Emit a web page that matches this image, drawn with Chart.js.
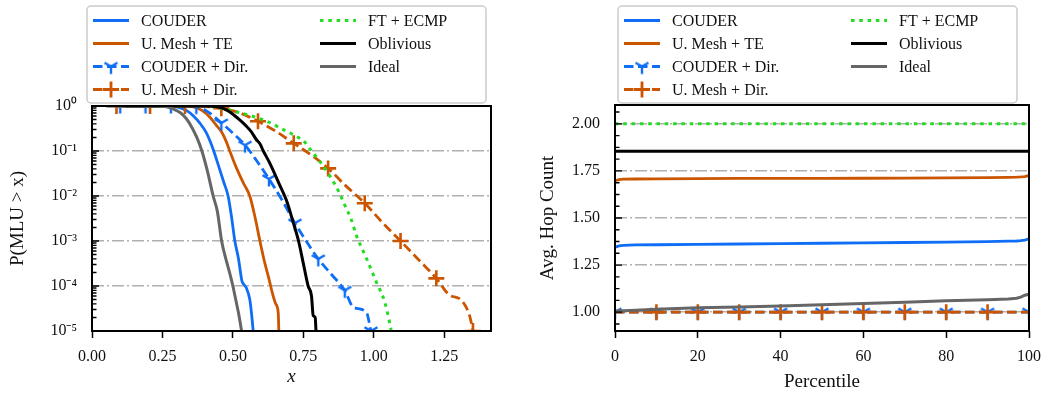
<!DOCTYPE html>
<html lang="en">
<head>
<meta charset="UTF-8">
<title>MLU CCDF and average hop count</title>
<script src="https://cdn.jsdelivr.net/npm/chart.js"></script>
<style>
  body { margin: 0; background: #fff; }
  .wrap { display: flex; width: 1050px; height: 393px; }
  .box { position: relative; width: 525px; height: 393px; }
</style>
</head>
<body>
<div class="wrap">
  <div class="box"><canvas id="mluChart"></canvas></div>
  <div class="box"><canvas id="hopChart"></canvas></div>
</div>
<script>
// ---- data ----
const seriesNames = ['COUDER', 'U. Mesh + TE', 'COUDER + Dir.', 'U. Mesh + Dir.', 'FT + ECMP', 'Oblivious', 'Ideal'];

// left panel: P(MLU > x)
const mluXTicks = [0, 0.25, 0.5, 0.75, 1.0, 1.25];
const mluYTicks = [1e-5, 1e-4, 1e-3, 1e-2, 1e-1, 1];
const mluYLabels = ['10⁻⁵', '10⁻⁴', '10⁻³', '10⁻²', '10⁻¹', '10⁰'];

const couderX = [0.08, 0.26, 0.30, 0.335, 0.36, 0.385, 0.405, 0.42, 0.432, 0.45, 0.468, 0.483, 0.495, 0.507, 0.52, 0.532, 0.538, 0.548, 0.56, 0.566, 0.572];
const couderP = [1, 1, 0.96, 0.8, 0.6, 0.4, 0.26, 0.16, 0.1, 0.045, 0.02, 0.01, 0.0035, 0.001, 0.0004, 0.00013, 0.00011, 0.00009, 0.00005, 0.000025, 0.00001];

const meshTeX = [0.11, 0.32, 0.36, 0.39, 0.42, 0.44, 0.459, 0.475, 0.489, 0.505, 0.522, 0.54, 0.56, 0.578, 0.596, 0.612, 0.625, 0.631, 0.64, 0.652, 0.661, 0.663];
const meshTeP = [1, 1, 0.96, 0.8, 0.55, 0.38, 0.27, 0.17, 0.1, 0.055, 0.031, 0.018, 0.01, 0.0035, 0.001, 0.00035, 0.00017, 0.00012, 0.00007, 0.00004, 0.000025, 0.00001];

const couderDirX = [0.10, 0.19, 0.28, 0.37, 0.41, 0.459, 0.50, 0.543, 0.585, 0.628, 0.675, 0.72, 0.76, 0.803, 0.85, 0.897, 0.927, 0.974, 0.99];
const couderDirP = [1, 1, 1, 0.97, 0.75, 0.42, 0.25, 0.135, 0.06, 0.024, 0.008, 0.0025, 0.001, 0.0004, 0.00018, 0.00008, 0.000034, 0.000026, 0.00001];
const couderDirMarks = [0, 1, 2, 3, 5, 7, 9, 11, 13, 15, 18];

const meshDirX = [0.087, 0.206, 0.33, 0.40, 0.459, 0.52, 0.589, 0.65, 0.716, 0.78, 0.838, 0.90, 0.968, 1.03, 1.095, 1.16, 1.222, 1.27, 1.305, 1.34, 1.352];
const meshDirP = [1, 1, 1, 0.97, 0.89, 0.72, 0.457, 0.28, 0.148, 0.08, 0.041, 0.017, 0.0069, 0.0026, 0.001, 0.00038, 0.000148, 0.000062, 0.000052, 0.000022, 0.00001];
const meshDirMarks = [0, 1, 2, 4, 6, 8, 10, 12, 14, 16, 20];

const ftX = [0.10, 0.38, 0.42, 0.459, 0.52, 0.577, 0.63, 0.671, 0.72, 0.754, 0.773, 0.809, 0.844, 0.873, 0.897, 0.921, 0.938, 0.974, 1.009, 1.039, 1.057, 1.062];
const ftP = [1, 1, 0.98, 0.89, 0.72, 0.575, 0.43, 0.316, 0.22, 0.16, 0.112, 0.058, 0.028, 0.0135, 0.0063, 0.0029, 0.00135, 0.00041, 0.000123, 0.0000437, 0.0000145, 0.00001];

const oblX = [0.12, 0.40, 0.44, 0.48, 0.518, 0.545, 0.565, 0.583, 0.596, 0.608, 0.63, 0.667, 0.69, 0.714, 0.733, 0.749, 0.767, 0.779, 0.785, 0.792, 0.795];
const oblP = [1, 1, 0.97, 0.8, 0.53, 0.37, 0.27, 0.18, 0.145, 0.1, 0.055, 0.017, 0.008, 0.0026, 0.001, 0.00034, 0.0001, 0.00006, 0.000022, 0.00002, 0.00001];

const idealX = [0.05, 0.22, 0.26, 0.29, 0.315, 0.335, 0.355, 0.372, 0.39, 0.41, 0.43, 0.445, 0.46, 0.475, 0.489, 0.50, 0.51, 0.52, 0.531];
const idealP = [1, 1, 0.97, 0.85, 0.7, 0.52, 0.33, 0.2, 0.1, 0.035, 0.01, 0.0045, 0.001, 0.0004, 0.00019, 0.0001, 0.00005, 0.000025, 0.00001];

// right panel: average hop count per percentile
const pctX = [0, 1, 2, 5, 10, 20, 30, 40, 50, 60, 70, 80, 90, 95, 97, 98, 99, 100];
const pctXTicks = [0, 20, 40, 60, 80, 100];
const hopYTicks = [1.0, 1.25, 1.5, 1.75, 2.0];

const couderHops    = [1.345, 1.352, 1.355, 1.357, 1.358, 1.36, 1.362, 1.364, 1.366, 1.368, 1.37, 1.372, 1.375, 1.377, 1.378, 1.38, 1.383, 1.39];
const meshTeHops    = [1.698, 1.704, 1.706, 1.707, 1.708, 1.709, 1.71, 1.71, 1.71, 1.711, 1.712, 1.713, 1.714, 1.716, 1.717, 1.718, 1.72, 1.726];
const couderDirHops = [1, 1, 1, 1, 1, 1, 1, 1, 1, 1, 1, 1, 1, 1, 1, 1, 1, 1];
const meshDirHops   = [1, 1, 1, 1, 1, 1, 1, 1, 1, 1, 1, 1, 1, 1, 1, 1, 1, 1];
const ftHops        = [2, 2, 2, 2, 2, 2, 2, 2, 2, 2, 2, 2, 2, 2, 2, 2, 2, 2];
const oblHops       = [1.855, 1.855, 1.855, 1.855, 1.855, 1.855, 1.855, 1.855, 1.855, 1.855, 1.855, 1.855, 1.855, 1.855, 1.855, 1.855, 1.855, 1.855];
const idealHops     = [1.006, 1.007, 1.008, 1.01, 1.015, 1.023, 1.028, 1.033, 1.039, 1.046, 1.053, 1.06, 1.066, 1.07, 1.074, 1.08, 1.09, 1.096];
const couderDirMarkPct = [0, 10, 20, 30, 40, 50, 60, 70, 80, 90, 100];
const meshDirMarkPct = [10, 20, 30, 40, 50, 60, 70, 80, 90];

// ---- styling ----
const family = "'Liberation Serif', 'Times New Roman', serif";
const textColor = '#111';
const blue = '#0f6ef5', orange = '#cc5500', green = '#22dd22', gray = '#666666', black = '#000000';
const gridGray = '#b0b0b0';

function triMarker(color, r, lw) {
  const c = document.createElement('canvas');
  const s = Math.ceil(2 * r + lw + 2);
  c.width = s; c.height = s;
  const g = c.getContext('2d');
  const m = s / 2;
  g.strokeStyle = color; g.lineWidth = lw;
  g.beginPath();
  g.moveTo(m, m); g.lineTo(m, m + r);
  g.moveTo(m, m); g.lineTo(m - 0.866 * r, m - 0.5 * r);
  g.moveTo(m, m); g.lineTo(m + 0.866 * r, m - 0.5 * r);
  g.stroke();
  return c;
}
const triBlue = triMarker(blue, 7.5, 2.4);

const lineStyles = [
  {color: blue, width: 2.8},
  {color: orange, width: 2.8},
  {color: blue, width: 2.8, dash: [9.5, 4.5], marker: 'tri'},
  {color: orange, width: 2.8, dash: [9.5, 4.5], marker: 'cross'},
  {color: green, width: 3, dash: [3.5, 4.8]},
  {color: black, width: 3},
  {color: gray, width: 3}
];

function pts(xs, ys) { return xs.map((x, i) => ({x: x, y: ys[i]})); }

function makeSets(dataList, markTest, smooth) {
  return dataList.map((data, i) => {
    const st = lineStyles[i];
    const isMark = c => !!st.marker && markTest[i](c.dataIndex, c.raw);
    return {
      label: seriesNames[i],
      data: data,
      borderColor: st.color,
      borderWidth: st.width,
      borderDash: st.dash || [],
      fill: false,
      tension: 0,
      cubicInterpolationMode: smooth ? 'monotone' : 'default',
      pointStyle: st.marker === 'tri' ? triBlue : 'cross',
      pointRadius: c => isMark(c) ? 8 : 0,
      pointBorderColor: st.color,
      pointBorderWidth: 2.6,
      pointBackgroundColor: st.color,
      order: -i,
      clip: 0
    };
  });
}

// legend in two columns, drawn above the plot
function boxLegend(dx) {
  return {
    id: 'boxLegend',
    afterDraw(chart) {
      const {ctx, chartArea} = chart;
      const x0 = chartArea.left + dx, y0 = 6, w = 399, h = 97;
      ctx.save();
      ctx.fillStyle = 'rgba(255,255,255,0.9)';
      ctx.strokeStyle = '#cccccc';
      ctx.lineWidth = 1.5;
      ctx.beginPath();
      ctx.roundRect(x0, y0, w, h, 4);
      ctx.fill(); ctx.stroke();
      ctx.font = '16px ' + family;
      ctx.textBaseline = 'middle';
      ctx.fillStyle = textColor;
      seriesNames.forEach((name, i) => {
        const col = i < 4 ? 0 : 1, row = i < 4 ? i : i - 4;
        const sx = x0 + 6 + col * 227, y = y0 + 14.5 + row * 23;
        const st = lineStyles[i];
        ctx.save();
        ctx.strokeStyle = st.color; ctx.lineWidth = st.width;
        ctx.setLineDash(st.dash || []);
        ctx.beginPath(); ctx.moveTo(sx, y); ctx.lineTo(sx + 36, y); ctx.stroke();
        ctx.setLineDash([]);
        if (st.marker === 'tri') {
          ctx.drawImage(triBlue, sx + 18 - triBlue.width / 2, y - triBlue.height / 2);
        } else if (st.marker === 'cross') {
          ctx.beginPath();
          ctx.moveTo(sx + 10, y); ctx.lineTo(sx + 26, y);
          ctx.moveTo(sx + 18, y - 8); ctx.lineTo(sx + 18, y + 8);
          ctx.stroke();
        }
        ctx.restore();
        ctx.fillText(name, sx + 48, y + 1);
      });
      ctx.restore();
    }
  };
}

// inward y ticks and the full axes frame
const frameTicks = {
  id: 'frameTicks',
  afterDatasetsDraw(chart, args, opts) {
    const {ctx, chartArea: a} = chart;
    const y = chart.scales.y;
    ctx.save();
    ctx.strokeStyle = '#000';
    ctx.lineWidth = 1.4;
    ctx.beginPath();
    opts.major.forEach(v => { const p = y.getPixelForValue(v); ctx.moveTo(a.left, p); ctx.lineTo(a.left + 7, p); });
    opts.minor.forEach(v => { const p = y.getPixelForValue(v); ctx.moveTo(a.left, p); ctx.lineTo(a.left + 4.5, p); });
    ctx.stroke();
    ctx.lineWidth = 2;
    ctx.strokeRect(a.left, a.top, a.right - a.left, a.bottom - a.top);
    ctx.restore();
  }
};

const tickFont = {family: family, size: 16};
const titleFont = {family: family, size: 19};

function xAxis(min, max, tickVals, fmt, title, titleStyle, titlePad) {
  return {
    type: 'linear', min: min, max: max,
    afterBuildTicks: s => { s.ticks = tickVals.map(v => ({value: v})); },
    afterFit: s => { s.height = 62; },
    ticks: {font: tickFont, color: textColor, padding: 9, maxRotation: 0, autoSkip: false, callback: fmt},
    grid: {color: 'rgba(0,0,0,0)', tickColor: '#000', tickLength: 7, tickWidth: 1.5},
    border: {display: false},
    title: {display: true, text: title, color: textColor, font: Object.assign({}, titleFont, {style: titleStyle}), padding: {top: 0, bottom: titlePad}}
  };
}

// ---- left: CCDF of MLU ----
const logMinor = mluYTicks.slice(0, -1).flatMap(d => [2, 3, 4, 5, 6, 7, 8, 9].map(k => k * d));

new Chart(document.getElementById('mluChart'), {
  type: 'line',
  data: {
    datasets: makeSets(
      [pts(couderX, couderP), pts(meshTeX, meshTeP), pts(couderDirX, couderDirP), pts(meshDirX, meshDirP),
       pts(ftX, ftP), pts(oblX, oblP), pts(idealX, idealP)],
      [null, null, i => couderDirMarks.includes(i), i => meshDirMarks.includes(i), null, null, null],
      true)
  },
  options: {
    responsive: true,
    maintainAspectRatio: false,
    animation: false,
    events: [],
    layout: {padding: {left: 0, top: 106, right: 34, bottom: 0}},
    plugins: {
      legend: {display: false},
      tooltip: {enabled: false},
      frameTicks: {major: mluYTicks, minor: logMinor}
    },
    scales: {
      x: xAxis(0, 1.416, mluXTicks, v => v.toFixed(2), 'x', 'italic', 5),
      y: {
        type: 'logarithmic', min: 1e-5, max: 1,
        afterBuildTicks: s => { s.ticks = mluYTicks.map(v => ({value: v, major: true})); },
        afterFit: s => { s.width = 92; },
        ticks: {font: tickFont, color: textColor, padding: 15, autoSkip: false, callback: (v, i) => mluYLabels[i]},
        grid: {color: gridGray, lineWidth: 1.6, drawTicks: false},
        border: {display: false, dash: [12, 3, 2, 3]},
        title: {display: true, text: 'P(MLU > x)', color: textColor, font: titleFont, padding: {top: 7, bottom: 0}}
      }
    }
  },
  plugins: [frameTicks, boxLegend(-5)]
});

// ---- right: average hop count ----
const hopMinor = [];
for (let v = hopYTicks[0] - 0.0625; v < 2.1; v += 0.0625) {
  if (!hopYTicks.some(t => Math.abs(t - v) < 1e-6)) hopMinor.push(v);
}

new Chart(document.getElementById('hopChart'), {
  type: 'line',
  data: {
    datasets: makeSets(
      [pts(pctX, couderHops), pts(pctX, meshTeHops), pts(pctX, couderDirHops), pts(pctX, meshDirHops),
       pts(pctX, ftHops), pts(pctX, oblHops), pts(pctX, idealHops)],
      [null, null, (i, p) => couderDirMarkPct.includes(p.x), (i, p) => meshDirMarkPct.includes(p.x), null, null, null],
      false)
  },
  options: {
    responsive: true,
    maintainAspectRatio: false,
    animation: false,
    events: [],
    layout: {padding: {left: 0, top: 105, right: 21, bottom: 0}},
    plugins: {
      legend: {display: false},
      tooltip: {enabled: false},
      frameTicks: {major: hopYTicks, minor: hopMinor}
    },
    scales: {
      x: xAxis(0, 100, pctXTicks, v => String(v), 'Percentile', 'normal', 0),
      y: {
        type: 'linear', min: 0.9, max: 2.1,
        afterBuildTicks: s => { s.ticks = hopYTicks.map(v => ({value: v})); },
        afterFit: s => { s.width = 90; },
        ticks: {font: tickFont, color: textColor, padding: 15, autoSkip: false, callback: v => v.toFixed(2)},
        grid: {color: gridGray, lineWidth: 1.6, drawTicks: false},
        border: {display: false, dash: [12, 3, 2, 3]},
        title: {display: true, text: 'Avg. Hop Count', color: textColor, font: titleFont, padding: {top: 11.6, bottom: 0}}
      }
    }
  },
  plugins: [frameTicks, boxLegend(3)]
});
</script>
</body>
</html>
